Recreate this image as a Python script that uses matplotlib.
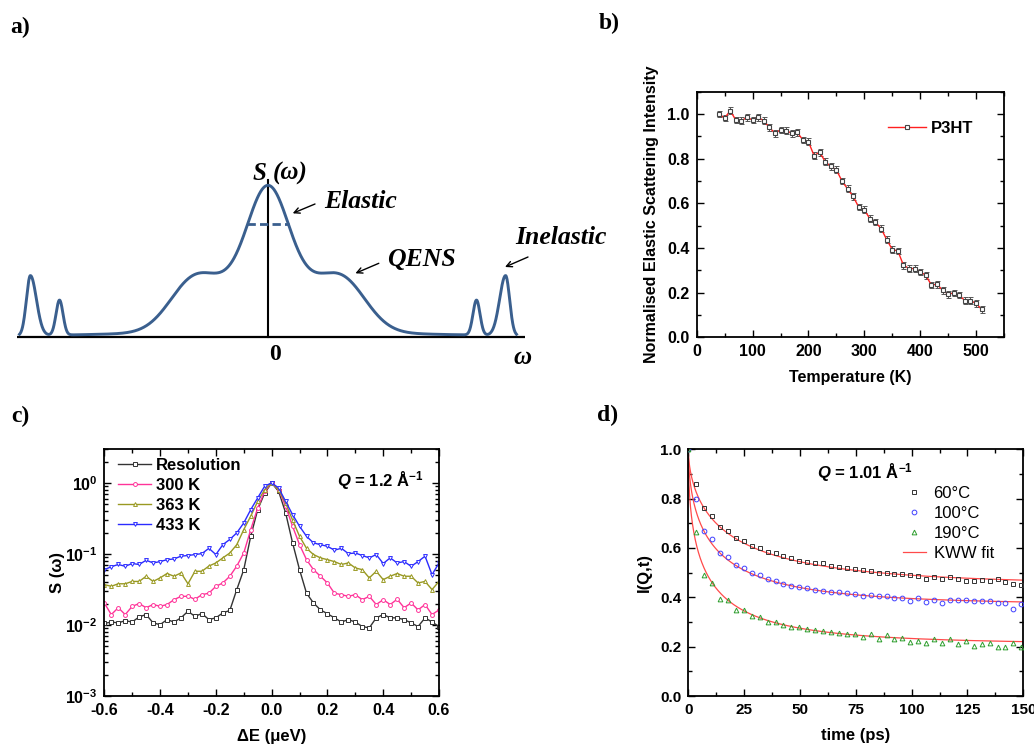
import numpy as np
import matplotlib
matplotlib.use('Agg')
import matplotlib.pyplot as plt
from matplotlib.ticker import MultipleLocator
from matplotlib.lines import Line2D

plt.rcParams['font.family'] = 'Liberation Sans'
plt.rcParams['font.weight'] = 'bold'
plt.rcParams['axes.labelweight'] = 'bold'
plt.rcParams['axes.unicode_minus'] = False
plt.rcParams['mathtext.fontset'] = 'custom'
plt.rcParams['mathtext.rm'] = 'Liberation Sans:bold'
plt.rcParams['mathtext.it'] = 'Liberation Sans:italic:bold'
plt.rcParams['mathtext.bf'] = 'Liberation Sans:bold'

# ---- a) schematic S(w): line-shape components (position, height, width in px units)
comp_pos = [0, 0, -75, 75, 0]
comp_amp = [86, 60, 45, 45, 5]
comp_wid = [20, 42, 24, 24, 150]
inel_pos = [-237.6, -208.5, 208.5, 237.6]
inel_amp = [60, 35, 35, 60]
inel_wid_in = [6, 3.5, 3.5, 6]
inel_wid_out = [4, 3.5, 3.5, 4]

# ---- b) elastic fixed window scan
temp_K = np.arange(40, 520, 10)
elastic_int = [1.000, 0.982, 1.015, 0.973, 0.970, 0.985, 0.973, 0.985, 0.970, 0.940,
               0.914, 0.929, 0.926, 0.914, 0.918, 0.884, 0.876, 0.814, 0.829, 0.787,
               0.765, 0.750, 0.700, 0.665, 0.631, 0.583, 0.571, 0.531, 0.516, 0.487,
               0.438, 0.393, 0.387, 0.323, 0.308, 0.308, 0.293, 0.278, 0.234, 0.238,
               0.211, 0.193, 0.199, 0.189, 0.164, 0.164, 0.152, 0.125]
elastic_err = 0.015

# ---- c) QENS spectra
dE = np.linspace(-0.6, 0.6, 49)
s_res = [0.0105, 0.011, 0.0107, 0.0115, 0.011, 0.013, 0.014, 0.0107, 0.0101, 0.0119,
         0.011, 0.0126, 0.0156, 0.0132, 0.0145, 0.0119, 0.0126, 0.0148, 0.016,
         0.0315, 0.060, 0.177, 0.42, 0.72, 1.0, 0.76, 0.38, 0.143, 0.060, 0.028,
         0.0204, 0.0163, 0.0144, 0.0126, 0.011, 0.0119, 0.011, 0.0095, 0.0091, 0.0126,
         0.014, 0.0126, 0.0126, 0.0119, 0.0107, 0.0095, 0.0126, 0.011, 0.0095]
s_300 = [0.0204, 0.014, 0.0175, 0.014, 0.0183, 0.020, 0.0175, 0.0194, 0.0183, 0.0194,
         0.0227, 0.0253, 0.0253, 0.023, 0.0267, 0.028, 0.035, 0.039, 0.0485,
         0.0675, 0.103, 0.22, 0.445, 0.76, 1.0, 0.8, 0.47, 0.245, 0.135, 0.083,
         0.060, 0.0485, 0.039, 0.028, 0.0267, 0.0253, 0.0267, 0.0227, 0.0253, 0.0194,
         0.0227, 0.0194, 0.023, 0.0175, 0.0204, 0.0163, 0.0194, 0.014, 0.0163]
s_363 = [0.037, 0.035, 0.038, 0.038, 0.041, 0.041, 0.0485, 0.041, 0.046, 0.053,
         0.0485, 0.054, 0.038, 0.057, 0.057, 0.0675, 0.0747, 0.088, 0.103,
         0.135, 0.22, 0.34, 0.55, 0.8, 1.0, 0.8, 0.52, 0.30, 0.177, 0.12,
         0.098, 0.088, 0.083, 0.078, 0.071, 0.0747, 0.0635, 0.060, 0.046, 0.057,
         0.0435, 0.0485, 0.053, 0.0485, 0.0485, 0.039, 0.041, 0.0315, 0.041]
s_433 = [0.060, 0.066, 0.071, 0.067, 0.0733, 0.071, 0.0815, 0.0747, 0.078, 0.083,
         0.085, 0.093, 0.095, 0.098, 0.101, 0.12, 0.098, 0.135, 0.16,
         0.198, 0.273, 0.42, 0.615, 0.9, 1.0, 0.85, 0.55, 0.358, 0.245, 0.177,
         0.143, 0.135, 0.128, 0.113, 0.12, 0.101, 0.103, 0.095, 0.088, 0.098,
         0.0733, 0.088, 0.0747, 0.078, 0.067, 0.078, 0.093, 0.051, 0.0747]

# ---- d) intermediate scattering function
t_ps = np.arange(43) * 3.55
i_60 = [1.0, 0.859, 0.764, 0.731, 0.686, 0.670, 0.642, 0.630, 0.609, 0.599, 0.584,
        0.578, 0.568, 0.558, 0.549, 0.545, 0.541, 0.538, 0.527, 0.522, 0.518,
        0.516, 0.511, 0.508, 0.500, 0.497, 0.493, 0.493, 0.491, 0.488, 0.474,
        0.484, 0.474, 0.481, 0.473, 0.468, 0.468, 0.470, 0.468, 0.473, 0.461,
        0.453, 0.450]
i_100 = [1.0, 0.797, 0.670, 0.635, 0.578, 0.562, 0.530, 0.520, 0.497, 0.491, 0.474,
         0.468, 0.453, 0.447, 0.441, 0.436, 0.430, 0.427, 0.422, 0.420, 0.416,
         0.412, 0.407, 0.408, 0.407, 0.405, 0.399, 0.396, 0.385, 0.396, 0.382,
         0.389, 0.376, 0.389, 0.389, 0.389, 0.386, 0.385, 0.385, 0.378, 0.378,
         0.351, 0.373]
i_190 = [1.0, 0.666, 0.489, 0.457, 0.395, 0.389, 0.347, 0.349, 0.324, 0.322, 0.301,
         0.301, 0.288, 0.281, 0.278, 0.272, 0.266, 0.264, 0.258, 0.254, 0.251,
         0.250, 0.241, 0.251, 0.231, 0.246, 0.230, 0.236, 0.220, 0.224, 0.216,
         0.232, 0.216, 0.230, 0.209, 0.224, 0.203, 0.209, 0.216, 0.197, 0.200,
         0.216, 0.197]
# KWW fit: I = A + (1-A) exp(-(t/tau)^beta)
kww_A = [0.45, 0.37, 0.21]
kww_tau = [18.8, 11.9, 8.0]
kww_beta = [0.58, 0.55, 0.50]

W, H = 1034, 745
fig = plt.figure(figsize=(W / 100, H / 100), dpi=100)


def box(l, t, r, b):
    return [l / W, 1 - b / H, (r - l) / W, (b - t) / H]


def style(ax, size=11.5):
    ax.tick_params(which='both', direction='in', top=True, right=True,
                   width=1.0, labelsize=size, pad=5)
    ax.tick_params(which='major', length=5)
    ax.tick_params(which='minor', length=3)
    for sp in ax.spines.values():
        sp.set_linewidth(1.3)


serif = dict(family='Liberation Serif', weight='bold')
blue_line = '#3a5f8e'

# ================= a)
axa = fig.add_axes(box(16.5, 137, 525, 377))
axa.set_xlim(-251.5, 257)
axa.set_ylim(-40, 200)
axa.axis('off')
om = np.linspace(-248.5, 248.5, 2000)
s_om = np.zeros_like(om)
for a, c, w in zip(comp_amp, comp_pos, comp_wid):
    s_om += a * np.exp(-0.5 * ((om - c) / w) ** 2)
for a, c, wi, wo in zip(inel_amp, inel_pos, inel_wid_in, inel_wid_out):
    w = np.where(np.abs(om) > abs(c), wo, wi)
    s_om += a * np.exp(-0.5 * ((om - c) / w) ** 2)
axa.plot([-251.5, 257], [0, 0], color='black', lw=1.6, solid_capstyle='butt')
axa.plot([0, 0], [0, 157], color='black', lw=1.5)
axa.plot(om, s_om, color=blue_line, lw=2.1)
axa.plot([-21, 21], [113, 113], color=blue_line, lw=2.0, ls=(0, (3, 1.5)))
axa.text(-1.5, 164, 'S', ha='right', va='center', style='italic', size=18, **serif)
axa.text(5, 164, '(ω)', ha='left', va='center', style='italic', size=18, **serif)
axa.text(56, 135, 'Elastic', ha='left', va='center', style='italic', size=18.5, **serif)
axa.text(119, 77, 'QENS', ha='left', va='center', style='italic', size=18.5, **serif)
axa.text(247, 100, 'Inelastic', ha='left', va='center', style='italic', size=18.5,
         clip_on=False, **serif)
axa.text(6.6, -17, '0', ha='center', va='center', size=17, **serif)
axa.text(255, -20, 'ω', ha='center', va='center', style='italic', size=18, **serif)
arrow = dict(arrowstyle='->', color='black', lw=1.0, shrinkA=0, shrinkB=0)
axa.annotate('', xy=(24.7, 123.7), xytext=(47, 133), arrowprops=arrow)
axa.annotate('', xy=(87.4, 63.7), xytext=(110.8, 73.7), arrowprops=arrow)
axa.annotate('', xy=(237, 70), xytext=(260, 80), arrowprops=arrow,
             annotation_clip=False)

# ================= b)
axb = fig.add_axes(box(696.7, 91.7, 1004, 337.3))
axb.errorbar(temp_K, elastic_int, yerr=elastic_err, fmt='none', ecolor='#555555',
             elinewidth=0.7, capsize=1.8, capthick=0.7)
axb.plot(temp_K, elastic_int, color='#ff2020', lw=1.0, marker='s', ms=3.0,
         mfc='white', mec='#444444', mew=0.8, label='P3HT')
axb.set_xlim(0, 550)
axb.set_ylim(0, 1.1)
axb.xaxis.set_major_locator(MultipleLocator(100))
axb.xaxis.set_minor_locator(MultipleLocator(50))
axb.yaxis.set_major_locator(MultipleLocator(0.2))
axb.yaxis.set_minor_locator(MultipleLocator(0.1))
style(axb)
axb.set_xlabel('Temperature (K)', size=11.5, labelpad=8)
axb.set_ylabel('Normalised Elastic Scattering Intensity', size=11.5, labelpad=6)
axb.legend(loc='center left', bbox_to_anchor=(0.622, 0.851), frameon=False,
           borderpad=0, borderaxespad=0, handlelength=2.3, handletextpad=0.3,
           prop=dict(size=12, weight='bold'))

# ================= c)
axc = fig.add_axes(box(104.3, 449, 439, 696))
series_c = [(s_res, 'Resolution', '#333333', 's'),
            (s_300, '300 K', '#ff3399', 'o'),
            (s_363, '363 K', '#999922', '^'),
            (s_433, '433 K', '#2b2bff', 'v')]
for ys, lab, col, mk in series_c:
    axc.plot(dE, ys, color=col, lw=1.0, marker=mk, ms=2.8, mfc='white', mec=col,
             mew=0.7, label=lab)
axc.set_yscale('log')
axc.set_xlim(-0.6, 0.6)
axc.set_ylim(1e-3, 3)
axc.xaxis.set_major_locator(MultipleLocator(0.2))
axc.xaxis.set_minor_locator(MultipleLocator(0.1))
style(axc)
axc.set_xlabel('ΔE (μeV)', size=12, labelpad=8)
axc.set_ylabel('S (ω)', size=12, labelpad=0)
axc.legend(loc='upper left', bbox_to_anchor=(0.041, 0.965), frameon=False,
           borderpad=0, borderaxespad=0, handlelength=2.0, handletextpad=0.25,
           labelspacing=0.3, prop=dict(size=12, weight='bold'))
axc.text(0.695, 0.872, r'$\it{Q}$ = 1.2 Å$^{-1}$', transform=axc.transAxes,
         ha='left', va='center', size=12)

# ================= d)
axd = fig.add_axes(box(688.3, 449.3, 1023.3, 696))
series_d = [(i_60, '60°C', '#333333', 's'),
            (i_100, '100°C', '#3f3fff', 'o'),
            (i_190, '190°C', '#2e9e2e', '^')]
t_fit = np.linspace(0, 150, 1500)
handles = []
for (ys, lab, col, mk), A, tau, beta in zip(series_d, kww_A, kww_tau, kww_beta):
    axd.plot(t_fit, A + (1 - A) * np.exp(-(t_fit / tau) ** beta), color='#ff4a4a',
             lw=0.9, zorder=2)
    axd.plot(t_ps, ys, ls='none', marker=mk, ms=3.4, mfc='none', mec=col, mew=0.7,
             zorder=3)
    handles.append(Line2D([], [], ls='none', marker=mk, ms=3.4, mfc='none', mec=col,
                          mew=0.7, label=lab))
handles.append(Line2D([], [], color='#ff4a4a', lw=0.9, label='KWW fit'))
axd.set_xlim(0, 150)
axd.set_ylim(0, 1)
axd.xaxis.set_major_locator(MultipleLocator(25))
axd.xaxis.set_minor_locator(MultipleLocator(12.5))
axd.yaxis.set_major_locator(MultipleLocator(0.2))
axd.yaxis.set_minor_locator(MultipleLocator(0.1))
style(axd, size=11)
axd.set_xlabel('time (ps)', size=12, labelpad=8)
axd.set_ylabel('I(Q,t)', size=12, labelpad=6)
axd.legend(handles=handles, loc='upper left', bbox_to_anchor=(0.64, 0.85),
           frameon=False, borderpad=0, borderaxespad=0, handlelength=1.4,
           handletextpad=0.45, labelspacing=0.3, prop=dict(size=12, weight='normal'))
axd.text(0.385, 0.907, r'$\it{Q}$ = 1.01 Å$^{-1}$', transform=axd.transAxes,
         ha='left', va='center', size=12)

# panel letters
for lab, x, y in [('a)', 20, 27), ('b)', 609, 23), ('c)', 20, 416), ('d)', 608, 415)]:
    fig.text(x / W, 1 - y / H, lab, ha='center', va='center', size=17, **serif)

fig.savefig('out.png', dpi=100)
